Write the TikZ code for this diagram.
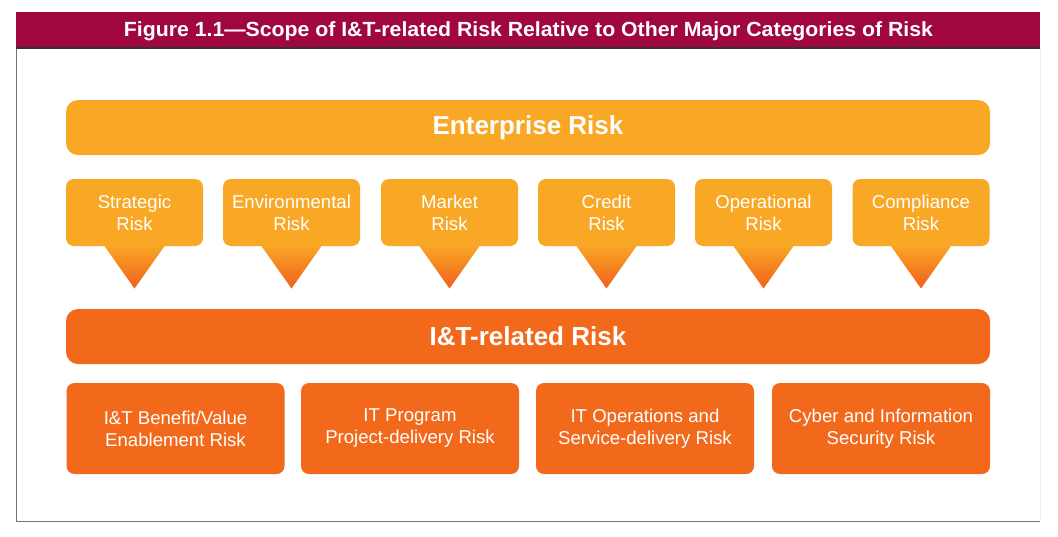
\documentclass[tikz,border=0pt]{standalone}
\usepackage{fontspec}
\setmainfont{Liberation Sans}
\usetikzlibrary{calc}
\definecolor{hdrred}{HTML}{A1073F}
\definecolor{eyel}{HTML}{F9A825}
\definecolor{iorg}{HTML}{F3691C}
\definecolor{tiporg}{HTML}{F1601B}
\newsavebox\hdrbox
\begin{document}
\sbox\hdrbox{\fontsize{20.5}{23}\selectfont\bfseries\color{white}Figure 1.1---Scope of I\&T-related Risk Relative to Other Major Categories of Risk}
\pgfmathsetmacro\hdrscale{809/\wd\hdrbox}
\begin{tikzpicture}[x=1pt,y=-1pt,
  bar/.style={rounded corners=12pt, minimum width=924pt, minimum height=55pt, inner sep=0pt,
    text=white, font=\fontsize{26}{30}\selectfont\bfseries},
  callout/.style={fill=eyel, rounded corners=8pt, minimum width=137pt, minimum height=67pt, inner sep=0pt,
    text=white, align=center, font=\fontsize{18.6}{22}\selectfont},
  riskbox/.style={fill=iorg, rounded corners=8pt, minimum width=218pt, minimum height=91pt, inner sep=0pt,
    text=white, align=center, font=\fontsize{18.6}{22}\selectfont},
  tri/.style={top color=eyel, middle color=eyel, bottom color=tiporg}
]
\useasboundingbox (0,0) rectangle (1058,536);
\fill[white] (0,0) rectangle (1058,536);
% frame
\draw[black!55, line width=1pt] (16.5,48) -- (16.5,521) -- (1040,521);
\draw[black!7, line width=1pt] (1040,48) -- (1040,521);
% header
\node[fill=hdrred, minimum width=1024pt, minimum height=36pt, inner sep=0pt] (hdr) at (528,30) {};
\draw[black!80, line width=1.5pt] (hdr.south west) -- (hdr.south east);
\node[text=white, inner sep=0pt] (title) at (528.5,31) {\scalebox{\hdrscale}[1]{\usebox\hdrbox}};
% enterprise risk
\node[bar, fill=eyel] (ent) at (528,127.5) {Enterprise Risk};
% callouts
\foreach \x/\name/\txt in {134.5/c1/Strategic\\Risk, 291.5/c2/Environmental\\Risk, 449.5/c3/Market\\Risk,
  606.5/c4/Credit\\Risk, 763.5/c5/Operational\\Risk, 921/c6/Compliance\\Risk}{
  \coordinate (\name t) at (\x,246);
  \shade[tri] ($(\name t)+(-31.5,-2)$) -- ($(\name t)+(31.5,-2)$) -- ($(\name t)+(0,42.5)$) -- cycle;
  \node[callout] (\name) at (\x,212.5) {\txt};
}
% I&T related risk
\node[bar, fill=iorg] (itr) at (528,336.5) {I\&T-related Risk};
% bottom boxes
\node[riskbox] (b1) at (175.5,428.5) {I\&T Benefit/Value\\Enablement Risk};
\node[riskbox] (b2) at (410,428.5) {IT Program\\Project-delivery Risk};
\node[riskbox] (b3) at (645,428.5) {IT Operations and\\Service-delivery Risk};
\node[riskbox] (b4) at (881,428.5) {Cyber and Information\\Security Risk};
\end{tikzpicture}
\end{document}
